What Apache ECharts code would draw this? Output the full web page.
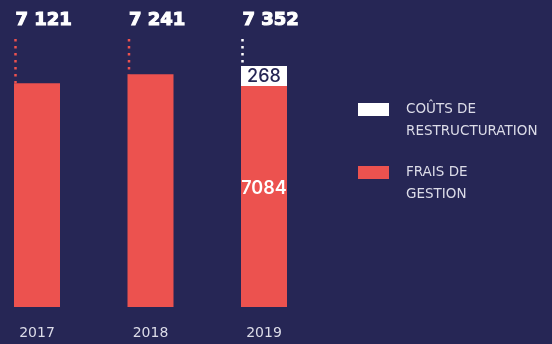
<!DOCTYPE html>
<html>
<head>
<meta charset="utf-8">
<script src="https://cdn.jsdelivr.net/npm/echarts@6/dist/echarts.min.js"></script>
<style>
  html, body { margin: 0; padding: 0; background: #262655; }
  #chart { width: 552px; height: 344px; }
</style>
</head>
<body>
<div id="chart"></div>
<script>
// Années et montants (en millions)
const years = ['2017', '2018', '2019'];
const fraisGestion = [7121, 7241, 7084];
const coutsRestructuration = [0, 0, 268];
const totals = [7121, 7241, 7352];

const NAVY = '#262655';
const RED = '#ec524f';
const WHITE = '#ffffff';
const AXIS_MIN = 4120;
const AXIS_MAX = 8120;
const BAR_W = 46;

function fmtThousands(v) {
  return String(v).replace(/\B(?=(\d{3})+(?!\d))/g, ' ');
}

const chart = echarts.init(document.getElementById('chart'), null, { renderer: 'canvas' });

chart.setOption({
  backgroundColor: NAVY,
  animation: false,
  grid: { left: 37, right: 288, top: 8.6, bottom: 37, containLabel: false },
  xAxis: {
    type: 'category',
    data: years,
    boundaryGap: false,
    axisLine: { show: false },
    axisTick: { show: false },
    splitLine: { show: false },
    axisLabel: {
      color: '#dcdce8',
      fontSize: 14,
      fontFamily: 'DejaVu Sans',
      margin: 19
    }
  },
  yAxis: {
    type: 'value',
    min: AXIS_MIN,
    max: AXIS_MAX,
    startValue: AXIS_MIN,
    show: false,
    splitLine: { show: false }
  },
  series: [
    {
      name: 'FRAIS DE GESTION',
      type: 'bar',
      stack: 'total',
      barWidth: BAR_W,
      clip: false,
      itemStyle: { color: RED },
      data: fraisGestion,
      label: {
        show: true,
        position: 'inside',
        offset: [0, -8],
        color: WHITE,
        fontSize: 18,
        fontWeight: 600,
        fontFamily: 'Inter',
        formatter: (p) => (coutsRestructuration[p.dataIndex] > 0 ? String(p.value) : '')
      }
    },
    {
      name: 'COÛTS DE RESTRUCTURATION',
      type: 'bar',
      stack: 'total',
      barWidth: BAR_W,
      clip: false,
      itemStyle: { color: WHITE },
      data: coutsRestructuration.map(v => (v > 0 ? v : null)),
      label: {
        show: true,
        position: 'inside',
        offset: [0, 1],
        color: NAVY,
        fontSize: 18,
        fontWeight: 500,
        fontFamily: 'Inter',
        formatter: (p) => (p.value ? String(p.value) : '')
      }
    },
    {
      // Totaux au-dessus des barres, reliés par un trait pointillé
      type: 'custom',
      clip: false,
      data: totals.map((v, i) => [i, v]),
      renderItem: (params, api) => {
        const i = api.value(0);
        const top = api.coord([i, api.value(1)]);
        const left = top[0] - BAR_W / 2;
        const dotColor = coutsRestructuration[i] > 0 ? WHITE : RED;
        return {
          type: 'group',
          children: [
            {
              type: 'line',
              shape: { x1: left + 1.5, y1: 39, x2: left + 1.5, y2: top[1] },
              style: { stroke: dotColor, lineWidth: 2.5, lineDash: [2.5, 4.5] }
            },
            {
              type: 'text',
              style: {
                x: left + 1.5,
                y: 20,
                text: fmtThousands(api.value(1)),
                fill: WHITE,
                stroke: WHITE,
                lineWidth: 1.1,
                font: 'bold 18px "DejaVu Sans"',
                align: 'left',
                verticalAlign: 'middle'
              }
            }
          ]
        };
      }
    }
  ],
  graphic: [
    { type: 'rect', shape: { x: 358, y: 103, width: 31, height: 13 }, style: { fill: WHITE } },
    {
      type: 'text', x: 406, y: 98,
      style: { text: 'COÛTS DE\nRESTRUCTURATION', fill: '#dcdce8', font: '13.5px "DejaVu Sans"', lineHeight: 22, verticalAlign: 'top' }
    },
    { type: 'rect', shape: { x: 358, y: 166, width: 31, height: 13 }, style: { fill: RED } },
    {
      type: 'text', x: 406, y: 161,
      style: { text: 'FRAIS DE\nGESTION', fill: '#dcdce8', font: '13.5px "DejaVu Sans"', lineHeight: 22, verticalAlign: 'top' }
    }
  ]
});
</script>
</body>
</html>
